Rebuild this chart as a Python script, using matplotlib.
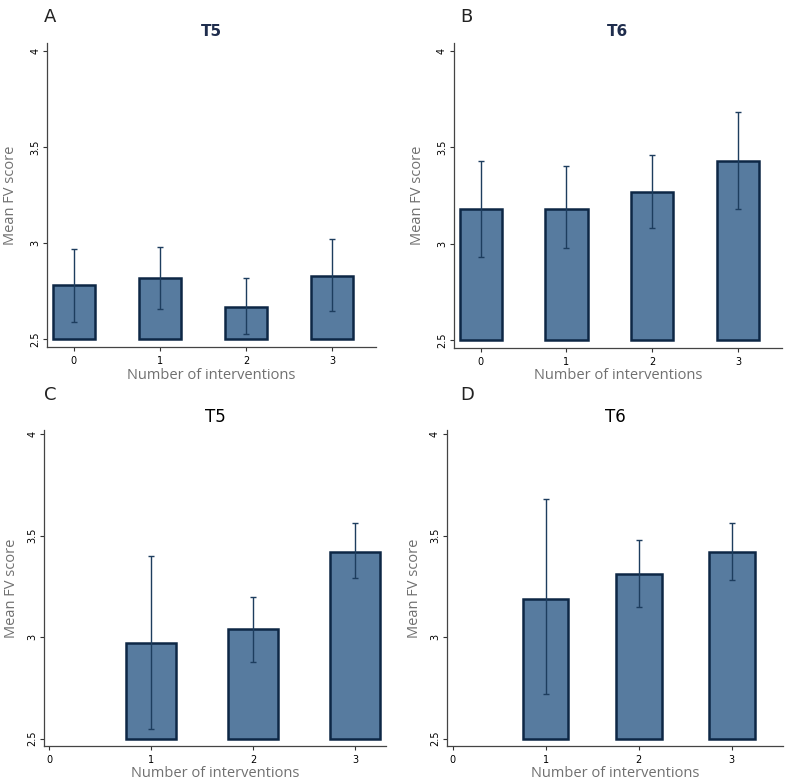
import matplotlib.pyplot as plt

# ---------------------------
# Data
# ---------------------------
x_top = [0, 1, 2, 3]
x_bot = [1, 2, 3]

a_mean = [2.78, 2.82, 2.67, 2.83]
a_low = [2.59, 2.66, 2.53, 2.65]
a_high = [2.97, 2.98, 2.82, 3.02]

b_mean = [3.18, 3.18, 3.27, 3.43]
b_low = [2.93, 2.98, 3.08, 3.18]
b_high = [3.43, 3.40, 3.46, 3.68]

c_mean = [2.97, 3.04, 3.42]
c_low = [2.55, 2.88, 3.29]
c_high = [3.40, 3.20, 3.56]

d_mean = [3.19, 3.31, 3.42]
d_low = [2.72, 3.15, 3.28]
d_high = [3.68, 3.48, 3.56]

y_ticks = [2.5, 3, 3.5, 4]
y_ticklabels = ['2.5', '3', '3.5', '4']

bar_color = '#577b9f'
edge_color = '#0d2745'
label_gray = '#707070'

fig = plt.figure(figsize=(7.89, 7.8), dpi=100)

panels = [
    ('A', 'T5', x_top, a_mean, a_low, a_high, [0.0596, 0.555, 0.417, 0.390], (-0.31, 3.51), (2.46, 4.04), True),
    ('B', 'T6', x_top, b_mean, b_low, b_high, [0.5754, 0.554, 0.4157, 0.391], (-0.31, 3.51), (2.46, 4.04), True),
    ('C', 'T5', x_bot, c_mean, c_low, c_high, [0.0558, 0.0436, 0.4335, 0.405], (-0.05, 3.30), (2.464, 4.02), False),
    ('D', 'T6', x_bot, d_mean, d_low, d_high, [0.5665, 0.0436, 0.426, 0.405], (-0.06, 3.55), (2.464, 4.02), False),
]

for letter, title, xs, mean, low, high, rect, xlim, ylim, top_row in panels:
    ax = fig.add_axes(rect)
    heights = [m - 2.5 for m in mean]
    ax.bar(xs, heights, bottom=2.5, width=0.49, color=bar_color,
           edgecolor=edge_color, linewidth=1.8)
    yerr = [[m - l for m, l in zip(mean, low)], [h - m for m, h in zip(mean, high)]]
    ax.errorbar(xs, mean, yerr=yerr, fmt='none', ecolor='#1d3d5e',
                elinewidth=1.0, capsize=2.2, capthick=1.0)
    ax.set_xlim(*xlim)
    ax.set_ylim(*ylim)
    ax.set_xticks([0, 1, 2, 3])
    ax.set_yticks(y_ticks)
    ax.set_yticklabels(y_ticklabels, rotation=90, va='center')
    ax.tick_params(axis='both', labelsize=7, length=3, width=0.8, color='#333333')
    ax.tick_params(axis='y', pad=2)
    for s in ['top', 'right']:
        ax.spines[s].set_visible(False)
    for s in ['left', 'bottom']:
        ax.spines[s].set_color('#444444')
        ax.spines[s].set_linewidth(0.9)
    ax.set_xlabel('Number of interventions', fontsize=10.5, color=label_gray,
                  family='Open Sans', labelpad=1)
    ax.set_ylabel('Mean FV score', fontsize=10.5, color=label_gray,
                  family='Open Sans', labelpad=9 if top_row else 6)
    if top_row:
        ax.set_title(title, fontsize=11, color='#1f2d4d', fontweight='bold', pad=5)
    else:
        ax.set_title(title, fontsize=12, color='black', pad=6)

fig.text(0.056, 0.99, 'A', fontsize=13, va='top', ha='left', color='#222222')
fig.text(0.583, 0.99, 'B', fontsize=13, va='top', ha='left', color='#222222')
fig.text(0.056, 0.505, 'C', fontsize=13, va='top', ha='left', color='#222222')
fig.text(0.583, 0.505, 'D', fontsize=13, va='top', ha='left', color='#222222')

plt.savefig('out.png', dpi=100)
